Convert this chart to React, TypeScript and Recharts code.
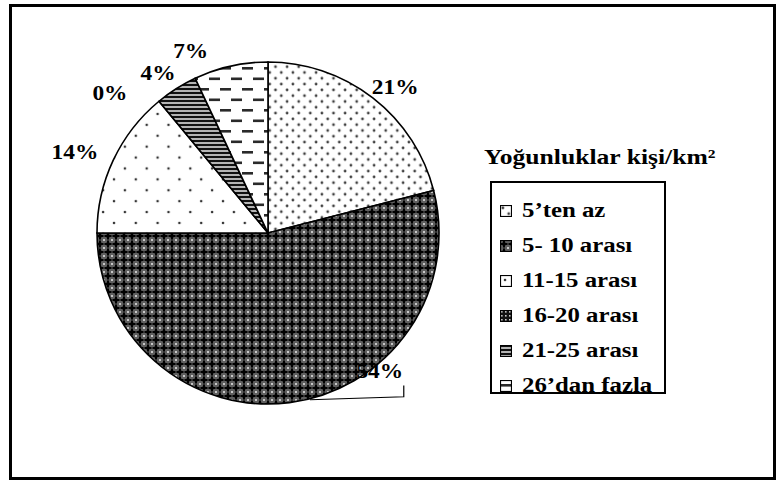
import React from "react";
import { PieChart, Pie, Cell, Legend } from "recharts";

// density classes (people per km²) and their share of the area, in %
const categories = ["5’ten az", "5- 10 arası", "11-15 arası", "16-20 arası", "21-25 arası", "26’dan fazla"];
const shares = [21, 54, 14, 0, 4, 7];
const legendTitle = "Yoğunluklar kişi/km²";

const patternIds = ["p-dots", "p-dark", "p-sparse", "p-grid", "p-stripes", "p-dashes"];

// label placement tweaks: clockwise angle shift (deg) and distance from centre
const labelShift = [3.4, 0, -2.7, -8.9, -2.1, -10.5];
const labelDist = [193, 0, 209, 211, 194, 197];

const FONT = "'Liberation Serif', 'Times New Roman', serif";
const RAD = Math.PI / 180;

const data = categories.map((name, i) => ({ name, value: shares[i] }));

const point = (cx: number, cy: number, r: number, angle: number) => ({
  x: cx + r * Math.cos(angle * RAD),
  y: cy - r * Math.sin(angle * RAD),
});

const renderLabel = (props: any) => {
  const { cx, cy, midAngle, outerRadius, percent, index } = props;
  const text = `${Math.round(percent * 100)}%`;

  if (index === 1) {
    // big slice: label pulled up beside the pie with an elbow leader
    const lp = point(cx, cy, outerRadius + 7, midAngle + 31.7);
    const edge = point(cx, cy, outerRadius, midAngle + 7);
    const elbowX = lp.x + 24;
    return (
      <g>
        <polyline
          points={`${edge.x},${edge.y + 1} ${elbowX},${edge.y - 2} ${elbowX},${lp.y + 14}`}
          fill="none"
          stroke="#000"
          strokeWidth={1.2}
        />
        <text
          transform={`translate(${lp.x},${lp.y}) scale(1.17,1)`}
          textAnchor="middle"
          dominantBaseline="central"
          fontFamily={FONT}
          fontWeight="bold"
          fontSize={20}
          fill="#000"
        >
          {text}
        </text>
      </g>
    );
  }

  const p = point(cx, cy, labelDist[index], midAngle - labelShift[index]);
  return (
    <text
      transform={`translate(${p.x},${p.y}) scale(1.17,1)`}
      textAnchor="middle"
      dominantBaseline="central"
      fontFamily={FONT}
      fontWeight="bold"
      fontSize={20}
      fill="#000"
    >
      {text}
    </text>
  );
};

const renderLegend = (props: any) => {
  const payload: any[] = props.payload || [];
  // keep the data order (the legend sorts items by default)
  const items = categories
    .map((name) => payload.find((p) => p.value === name))
    .filter(Boolean);
  return (
    <div style={{ fontFamily: FONT, fontWeight: "bold", color: "#000" }}>
      <div
        style={{
          fontSize: 21,
          height: 28,
          lineHeight: "28px",
          whiteSpace: "nowrap",
          transform: "scaleX(1.22)",
          transformOrigin: "left center",
        }}
      >
        {legendTitle}
      </div>
      <div
        style={{
          marginTop: 10,
          marginLeft: 6,
          width: 176,
          height: 213,
          border: "2px solid #000",
          boxSizing: "border-box",
          paddingTop: 10,
        }}
      >
        {items.map((entry: any) => {
          const i = categories.indexOf(entry.value);
          return (
            <div key={entry.value} style={{ display: "flex", alignItems: "center", height: 35, paddingLeft: 8 }}>
              <svg width={12} height={12} style={{ flex: "none" }}>
                <rect x={0.5} y={0.5} width={11} height={11} fill={`url(#${patternIds[i]})`} stroke="#000" strokeWidth={1.2} />
              </svg>
              <span
                style={{
                  marginLeft: 10,
                  fontSize: 20,
                  display: "inline-block",
                  whiteSpace: "nowrap",
                  transform: "scaleX(1.24)",
                  transformOrigin: "left center",
                }}
              >
                {entry.value}
              </span>
            </div>
          );
        })}
      </div>
    </div>
  );
};

export default function App() {
  return (
    <div style={{ position: "relative", width: 780, height: 481, background: "#fff" }}>
      <style>{"body{margin:0}"}</style>
      <div
        style={{
          position: "absolute",
          left: 9,
          top: 4,
          width: 767,
          height: 476,
          border: "3px solid #000",
          boxSizing: "border-box",
        }}
      />
      <div style={{ position: "absolute", left: 0, top: 0 }}>
        <PieChart width={780} height={481} margin={{ top: 0, right: 0, bottom: 0, left: 0 }}>
          <defs>
            <pattern id="p-dots" width={11.6} height={11.6} patternUnits="userSpaceOnUse">
              <rect width={11.6} height={11.6} fill="#fff" />
              <circle cx={2.9} cy={2.9} r={1.4} fill="#404040" />
              <circle cx={8.7} cy={8.7} r={1.4} fill="#404040" />
            </pattern>
            <pattern id="p-dark" width={8} height={8} patternUnits="userSpaceOnUse">
              <rect width={8} height={8} fill="#5e5e5e" />
              <rect x={0.5} y={3} width={7} height={2} fill="#000" />
              <rect x={3} y={0.5} width={2} height={7} fill="#000" />
              <path d="M4 1.2 L6.8 4 L4 6.8 L1.2 4 Z" fill="#000" />
              <rect x={-0.8} y={-0.8} width={1.6} height={1.6} fill="#fff" />
              <rect x={7.2} y={-0.8} width={1.6} height={1.6} fill="#fff" />
              <rect x={-0.8} y={7.2} width={1.6} height={1.6} fill="#fff" />
              <rect x={7.2} y={7.2} width={1.6} height={1.6} fill="#fff" />
            </pattern>
            <pattern id="p-sparse" width={21.8} height={21.8} patternUnits="userSpaceOnUse">
              <rect width={21.8} height={21.8} fill="#fff" />
              <circle cx={5} cy={5} r={1.3} fill="#333" />
              <circle cx={15.9} cy={15.9} r={1.3} fill="#333" />
            </pattern>
            <pattern id="p-grid" width={4} height={4} patternUnits="userSpaceOnUse">
              <rect width={4} height={4} fill="#111" />
              <rect x={1} y={1} width={1.6} height={1.6} fill="#ccc" />
            </pattern>
            <pattern id="p-stripes" width={8} height={4} patternUnits="userSpaceOnUse">
              <rect width={8} height={4} fill="#b4b4b4" />
              <rect y={0} width={8} height={2} fill="#111" />
            </pattern>
            <pattern id="p-dashes" width={22} height={21} patternUnits="userSpaceOnUse">
              <rect width={22} height={21} fill="#fff" />
              <rect x={0} y={4} width={11} height={2.6} fill="#2a2a2a" />
              <rect x={11} y={14.5} width={11} height={2.6} fill="#2a2a2a" />
            </pattern>
          </defs>
          <Pie
            data={data}
            dataKey="value"
            nameKey="name"
            cx={268}
            cy={233}
            outerRadius={171}
            startAngle={90}
            endAngle={-270}
            label={renderLabel}
            labelLine={false}
            isAnimationActive={false}
          >
            {data.map((d, i) => (
              <Cell key={d.name} fill={`url(#${patternIds[i]})`} stroke="#000" strokeWidth={1.6} />
            ))}
          </Pie>
          <Legend
            content={renderLegend}
            layout="vertical"
            verticalAlign="middle"
            align="right"
            wrapperStyle={{ position: "absolute", left: 484, top: 143, right: "auto", width: 280 }}
          />
        </PieChart>
      </div>
    </div>
  );
}
